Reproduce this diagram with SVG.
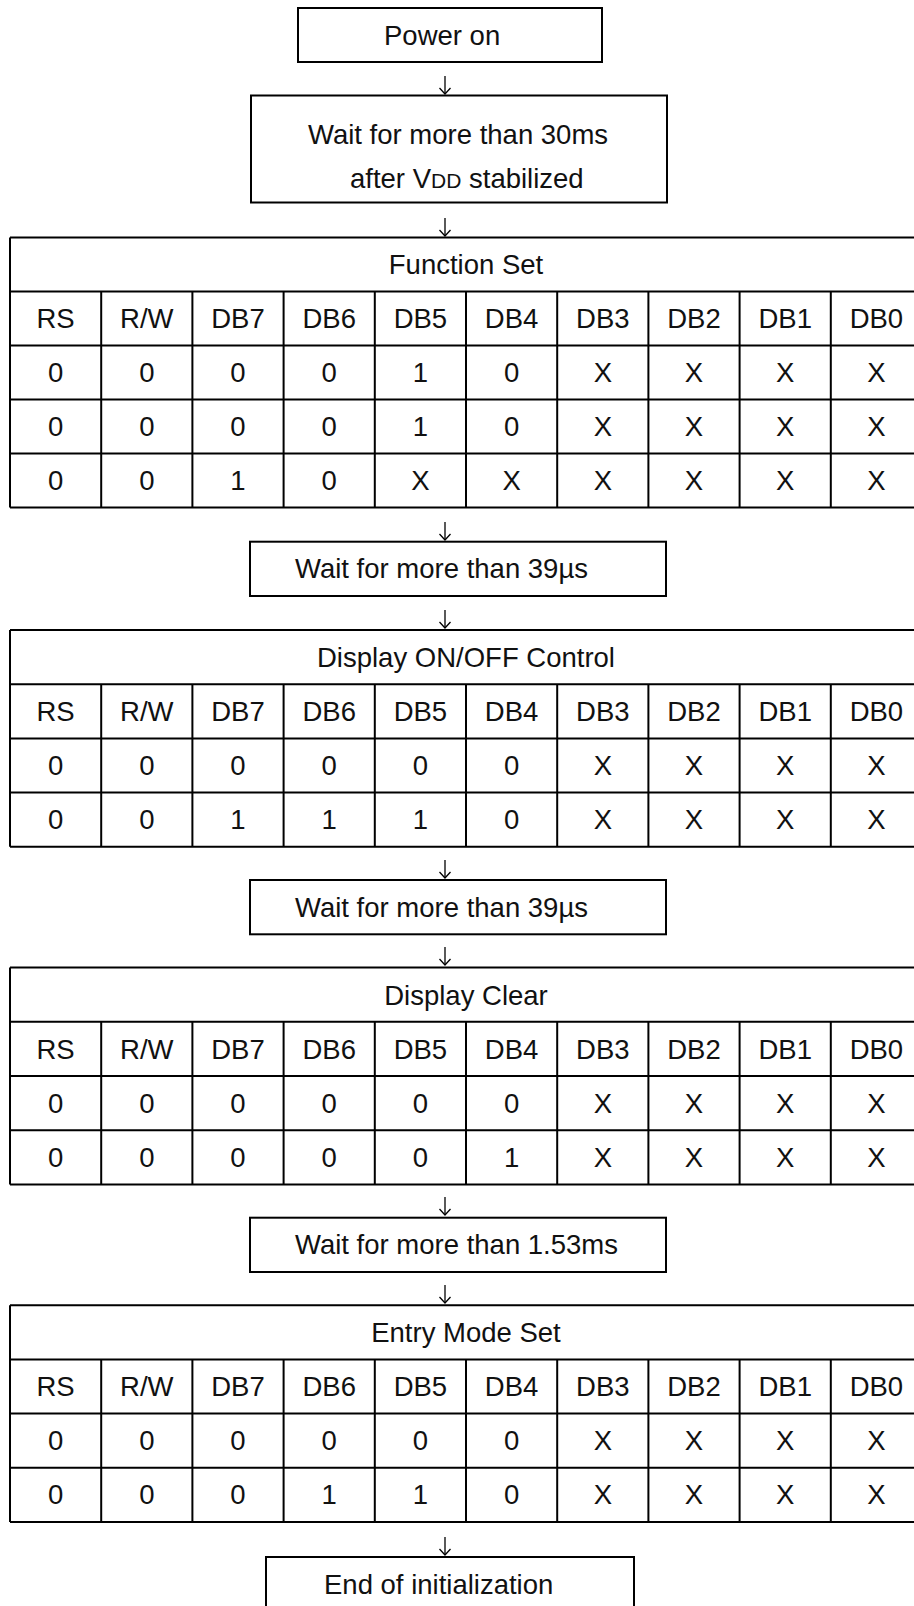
<svg xmlns="http://www.w3.org/2000/svg" width="914" height="1606" viewBox="0 0 914 1606">
<defs>
<style>
text{font-family:"Liberation Sans",Arial,sans-serif;font-size:27.5px;fill:#111}
.c{text-anchor:middle}
.b{fill:#fff;stroke:#000;stroke-width:2}
.g{stroke:#000;stroke-width:2;fill:none}
.a{stroke:#000;stroke-width:1.3;fill:none}
</style>
</defs>
<rect width="914" height="1606" fill="#fff"/>

<g id="connectors">
<path class="a" d="M445,76 V94"/><path class="a" d="M439.5,88 L445,94 L450.5,88"/>
<path class="a" d="M445,218 V236"/><path class="a" d="M439.5,230 L445,236 L450.5,230"/>
<path class="a" d="M445,522 V540"/><path class="a" d="M439.5,534 L445,540 L450.5,534"/>
<path class="a" d="M445,610 V628"/><path class="a" d="M439.5,622 L445,628 L450.5,622"/>
<path class="a" d="M445,860 V878"/><path class="a" d="M439.5,872 L445,878 L450.5,872"/>
<path class="a" d="M445,947 V965"/><path class="a" d="M439.5,959 L445,965 L450.5,959"/>
<path class="a" d="M445,1197 V1215"/><path class="a" d="M439.5,1209 L445,1215 L450.5,1209"/>
<path class="a" d="M445,1285 V1303"/><path class="a" d="M439.5,1297 L445,1303 L450.5,1297"/>
<path class="a" d="M445,1537 V1555"/><path class="a" d="M439.5,1549 L445,1555 L450.5,1549"/>
</g>

<g id="power-on">
<rect class="b" x="298" y="8" width="304" height="54"/>
<text x="384" y="45">Power on</text>
</g>

<g id="wait-30ms">
<rect class="b" x="251" y="95.5" width="416" height="107"/>
<text x="308" y="144">Wait for more than 30ms</text>
<text x="350" y="188">after V<tspan font-size="21">DD</tspan> stabilized</text>
</g>

<g id="function-set">
<path class="g" d="M10,237.5 H930 M10,291.5 H930 M10,345.5 H930 M10,399.5 H930 M10,453.5 H930 M10,507.5 H930 M10,237.5 V507.5 M101.2,291.5 V507.5 M192.4,291.5 V507.5 M283.6,291.5 V507.5 M374.8,291.5 V507.5 M466,291.5 V507.5 M557.2,291.5 V507.5 M648.4,291.5 V507.5 M739.6,291.5 V507.5 M830.8,291.5 V507.5"/>
<text class="c" x="466" y="274">Function Set</text>
<text class="c" x="55.6" y="328">RS</text><text class="c" x="146.8" y="328">R/W</text><text class="c" x="238" y="328">DB7</text><text class="c" x="329.2" y="328">DB6</text><text class="c" x="420.4" y="328">DB5</text><text class="c" x="511.6" y="328">DB4</text><text class="c" x="602.8" y="328">DB3</text><text class="c" x="694" y="328">DB2</text><text class="c" x="785.2" y="328">DB1</text><text class="c" x="876.4" y="328">DB0</text>
<text class="c" x="55.6" y="382">0</text><text class="c" x="146.8" y="382">0</text><text class="c" x="238" y="382">0</text><text class="c" x="329.2" y="382">0</text><text class="c" x="420.4" y="382">1</text><text class="c" x="511.6" y="382">0</text><text class="c" x="602.8" y="382">X</text><text class="c" x="694" y="382">X</text><text class="c" x="785.2" y="382">X</text><text class="c" x="876.4" y="382">X</text>
<text class="c" x="55.6" y="436">0</text><text class="c" x="146.8" y="436">0</text><text class="c" x="238" y="436">0</text><text class="c" x="329.2" y="436">0</text><text class="c" x="420.4" y="436">1</text><text class="c" x="511.6" y="436">0</text><text class="c" x="602.8" y="436">X</text><text class="c" x="694" y="436">X</text><text class="c" x="785.2" y="436">X</text><text class="c" x="876.4" y="436">X</text>
<text class="c" x="55.6" y="490">0</text><text class="c" x="146.8" y="490">0</text><text class="c" x="238" y="490">1</text><text class="c" x="329.2" y="490">0</text><text class="c" x="420.4" y="490">X</text><text class="c" x="511.6" y="490">X</text><text class="c" x="602.8" y="490">X</text><text class="c" x="694" y="490">X</text><text class="c" x="785.2" y="490">X</text><text class="c" x="876.4" y="490">X</text>
</g>

<g id="wait-39us-1">
<rect class="b" x="250" y="541.7" width="416" height="54.3"/>
<text x="295" y="578">Wait for more than 39µs</text>
</g>

<g id="display-on-off">
<path class="g" d="M10,630 H930 M10,684.2 H930 M10,738.4 H930 M10,792.6 H930 M10,846.8 H930 M10,630 V846.8 M101.2,684.2 V846.8 M192.4,684.2 V846.8 M283.6,684.2 V846.8 M374.8,684.2 V846.8 M466,684.2 V846.8 M557.2,684.2 V846.8 M648.4,684.2 V846.8 M739.6,684.2 V846.8 M830.8,684.2 V846.8"/>
<text class="c" x="466" y="667">Display ON/OFF Control</text>
<text class="c" x="55.6" y="721">RS</text><text class="c" x="146.8" y="721">R/W</text><text class="c" x="238" y="721">DB7</text><text class="c" x="329.2" y="721">DB6</text><text class="c" x="420.4" y="721">DB5</text><text class="c" x="511.6" y="721">DB4</text><text class="c" x="602.8" y="721">DB3</text><text class="c" x="694" y="721">DB2</text><text class="c" x="785.2" y="721">DB1</text><text class="c" x="876.4" y="721">DB0</text>
<text class="c" x="55.6" y="775">0</text><text class="c" x="146.8" y="775">0</text><text class="c" x="238" y="775">0</text><text class="c" x="329.2" y="775">0</text><text class="c" x="420.4" y="775">0</text><text class="c" x="511.6" y="775">0</text><text class="c" x="602.8" y="775">X</text><text class="c" x="694" y="775">X</text><text class="c" x="785.2" y="775">X</text><text class="c" x="876.4" y="775">X</text>
<text class="c" x="55.6" y="829">0</text><text class="c" x="146.8" y="829">0</text><text class="c" x="238" y="829">1</text><text class="c" x="329.2" y="829">1</text><text class="c" x="420.4" y="829">1</text><text class="c" x="511.6" y="829">0</text><text class="c" x="602.8" y="829">X</text><text class="c" x="694" y="829">X</text><text class="c" x="785.2" y="829">X</text><text class="c" x="876.4" y="829">X</text>
</g>

<g id="wait-39us-2">
<rect class="b" x="250" y="880" width="416" height="54.3"/>
<text x="295" y="916.5">Wait for more than 39µs</text>
</g>

<g id="display-clear">
<path class="g" d="M10,967.6 H930 M10,1021.8 H930 M10,1076 H930 M10,1130.2 H930 M10,1184.4 H930 M10,967.6 V1184.4 M101.2,1021.8 V1184.4 M192.4,1021.8 V1184.4 M283.6,1021.8 V1184.4 M374.8,1021.8 V1184.4 M466,1021.8 V1184.4 M557.2,1021.8 V1184.4 M648.4,1021.8 V1184.4 M739.6,1021.8 V1184.4 M830.8,1021.8 V1184.4"/>
<text class="c" x="466" y="1004.5">Display Clear</text>
<text class="c" x="55.6" y="1058.5">RS</text><text class="c" x="146.8" y="1058.5">R/W</text><text class="c" x="238" y="1058.5">DB7</text><text class="c" x="329.2" y="1058.5">DB6</text><text class="c" x="420.4" y="1058.5">DB5</text><text class="c" x="511.6" y="1058.5">DB4</text><text class="c" x="602.8" y="1058.5">DB3</text><text class="c" x="694" y="1058.5">DB2</text><text class="c" x="785.2" y="1058.5">DB1</text><text class="c" x="876.4" y="1058.5">DB0</text>
<text class="c" x="55.6" y="1112.5">0</text><text class="c" x="146.8" y="1112.5">0</text><text class="c" x="238" y="1112.5">0</text><text class="c" x="329.2" y="1112.5">0</text><text class="c" x="420.4" y="1112.5">0</text><text class="c" x="511.6" y="1112.5">0</text><text class="c" x="602.8" y="1112.5">X</text><text class="c" x="694" y="1112.5">X</text><text class="c" x="785.2" y="1112.5">X</text><text class="c" x="876.4" y="1112.5">X</text>
<text class="c" x="55.6" y="1166.5">0</text><text class="c" x="146.8" y="1166.5">0</text><text class="c" x="238" y="1166.5">0</text><text class="c" x="329.2" y="1166.5">0</text><text class="c" x="420.4" y="1166.5">0</text><text class="c" x="511.6" y="1166.5">1</text><text class="c" x="602.8" y="1166.5">X</text><text class="c" x="694" y="1166.5">X</text><text class="c" x="785.2" y="1166.5">X</text><text class="c" x="876.4" y="1166.5">X</text>
</g>

<g id="wait-1-53ms">
<rect class="b" x="250" y="1217.7" width="416" height="54.3"/>
<text x="295" y="1254">Wait for more than 1.53ms</text>
</g>

<g id="entry-mode-set">
<path class="g" d="M10,1305.2 H930 M10,1359.4 H930 M10,1413.6 H930 M10,1467.8 H930 M10,1522 H930 M10,1305.2 V1522 M101.2,1359.4 V1522 M192.4,1359.4 V1522 M283.6,1359.4 V1522 M374.8,1359.4 V1522 M466,1359.4 V1522 M557.2,1359.4 V1522 M648.4,1359.4 V1522 M739.6,1359.4 V1522 M830.8,1359.4 V1522"/>
<text class="c" x="466" y="1342">Entry Mode Set</text>
<text class="c" x="55.6" y="1396">RS</text><text class="c" x="146.8" y="1396">R/W</text><text class="c" x="238" y="1396">DB7</text><text class="c" x="329.2" y="1396">DB6</text><text class="c" x="420.4" y="1396">DB5</text><text class="c" x="511.6" y="1396">DB4</text><text class="c" x="602.8" y="1396">DB3</text><text class="c" x="694" y="1396">DB2</text><text class="c" x="785.2" y="1396">DB1</text><text class="c" x="876.4" y="1396">DB0</text>
<text class="c" x="55.6" y="1450">0</text><text class="c" x="146.8" y="1450">0</text><text class="c" x="238" y="1450">0</text><text class="c" x="329.2" y="1450">0</text><text class="c" x="420.4" y="1450">0</text><text class="c" x="511.6" y="1450">0</text><text class="c" x="602.8" y="1450">X</text><text class="c" x="694" y="1450">X</text><text class="c" x="785.2" y="1450">X</text><text class="c" x="876.4" y="1450">X</text>
<text class="c" x="55.6" y="1504">0</text><text class="c" x="146.8" y="1504">0</text><text class="c" x="238" y="1504">0</text><text class="c" x="329.2" y="1504">1</text><text class="c" x="420.4" y="1504">1</text><text class="c" x="511.6" y="1504">0</text><text class="c" x="602.8" y="1504">X</text><text class="c" x="694" y="1504">X</text><text class="c" x="785.2" y="1504">X</text><text class="c" x="876.4" y="1504">X</text>
</g>

<g id="end">
<rect class="b" x="266" y="1557" width="368" height="70"/>
<text x="324" y="1594">End of initialization</text>
</g>
</svg>
